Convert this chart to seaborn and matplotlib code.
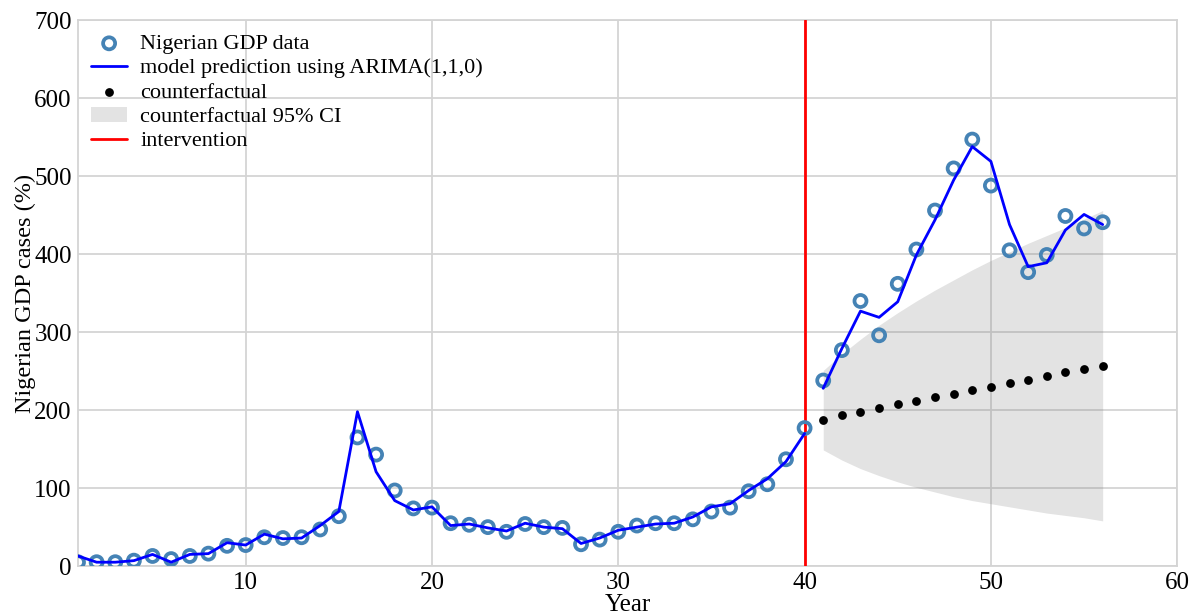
import matplotlib
matplotlib.use("Agg")
import matplotlib.pyplot as plt
import numpy as np
import pandas as pd
import seaborn as sns

years = list(range(1, 57))
gdp = [5, 5, 5, 7, 13, 9, 13, 16, 26, 27,
       37, 36, 37, 47, 64, 165, 143, 97, 74, 75,
       55, 53, 50, 44, 54, 50, 49, 28, 34, 44,
       52, 55, 55, 60, 70, 75, 96, 105, 137, 177,
       238, 277, 340, 296, 362, 406, 456, 510, 547, 488,
       405, 377, 399, 449, 433, 441]

pre_years = list(range(1, 41))
pre_pred = [13, 5, 5, 7, 15, 5, 15, 16, 30, 27,
            41, 35, 36, 52, 70, 198, 121, 84, 72, 76,
            52, 54, 49, 45, 55, 50, 48, 29, 36, 46,
            50, 54, 55, 63, 76, 80, 97, 112, 134, 170]

post_years = list(range(41, 57))
post_pred = [228, 279, 327, 319, 339, 399, 444, 495, 538, 519,
             438, 384, 389, 431, 451, 438]
counterfactual = [187, 194, 198, 203, 208, 212, 217, 221, 226, 230,
                  235, 239, 244, 249, 253, 257]
ci_upper = [251, 272, 291, 309, 325, 340, 354, 367, 380, 392,
            403, 414, 424, 434, 445, 456]
ci_lower = [149, 136, 125, 116, 108, 101, 95, 89, 84, 80,
            76, 72, 68, 65, 62, 58]

intervention_year = 40

sns.set_style("whitegrid", {"grid.color": ".83", "axes.edgecolor": ".83",
                            "text.color": "black", "axes.labelcolor": "black",
                            "xtick.color": "black", "ytick.color": "black"})
plt.rcParams['font.family'] = ['Liberation Serif', 'DejaVu Serif']

fig, ax = plt.subplots(figsize=(12, 6.14), dpi=100)
fig.subplots_adjust(left=0.065, right=0.981, top=0.967, bottom=0.078)

df = pd.DataFrame({"Year": years, "GDP": gdp})
sns.scatterplot(data=df, x="Year", y="GDP", ax=ax, marker="o", s=75,
                facecolor="none", edgecolor="#4583b5", linewidth=2.7,
                label="Nigerian GDP data", zorder=4)
sns.lineplot(x=pre_years, y=pre_pred, ax=ax, color="#0000ff", lw=2,
             label="model prediction using ARIMA(1,1,0)", zorder=5)
sns.lineplot(x=post_years, y=post_pred, ax=ax, color="#0000ff", lw=2,
             zorder=5)
sns.scatterplot(x=post_years, y=counterfactual, ax=ax, color="black",
                s=40, linewidth=0, label="counterfactual", zorder=4)
ax.fill_between(post_years, ci_lower, ci_upper, color="gray", alpha=0.22,
                linewidth=0, label="counterfactual 95% CI", zorder=2)
ax.axvline(intervention_year, color="red", lw=2, label="intervention",
           zorder=3)

ax.set_xlim(1, 60)
ax.set_ylim(0, 700)
ax.set_xticks([10, 20, 30, 40, 50, 60])
ax.set_yticks(range(0, 701, 100))
ax.tick_params(labelsize=18, pad=1)
ax.grid(lw=1.3)
for sp in ax.spines.values():
    sp.set_linewidth(1.3)
ax.set_xlabel("Year", fontsize=18, labelpad=0)
ax.set_ylabel("Nigerian GDP cases (%)", fontsize=17.5, labelpad=-1)

h, l = ax.get_legend_handles_labels()
order = ["Nigerian GDP data", "model prediction using ARIMA(1,1,0)",
         "counterfactual", "counterfactual 95% CI", "intervention"]
hd = dict(zip(l, h))
ax.legend([hd[k] for k in order], order, loc="upper left", frameon=False,
          fontsize=16, borderaxespad=0.2, handlelength=1.6,
          handletextpad=0.6, labelspacing=0.17)

plt.savefig("out.png", dpi=100)
